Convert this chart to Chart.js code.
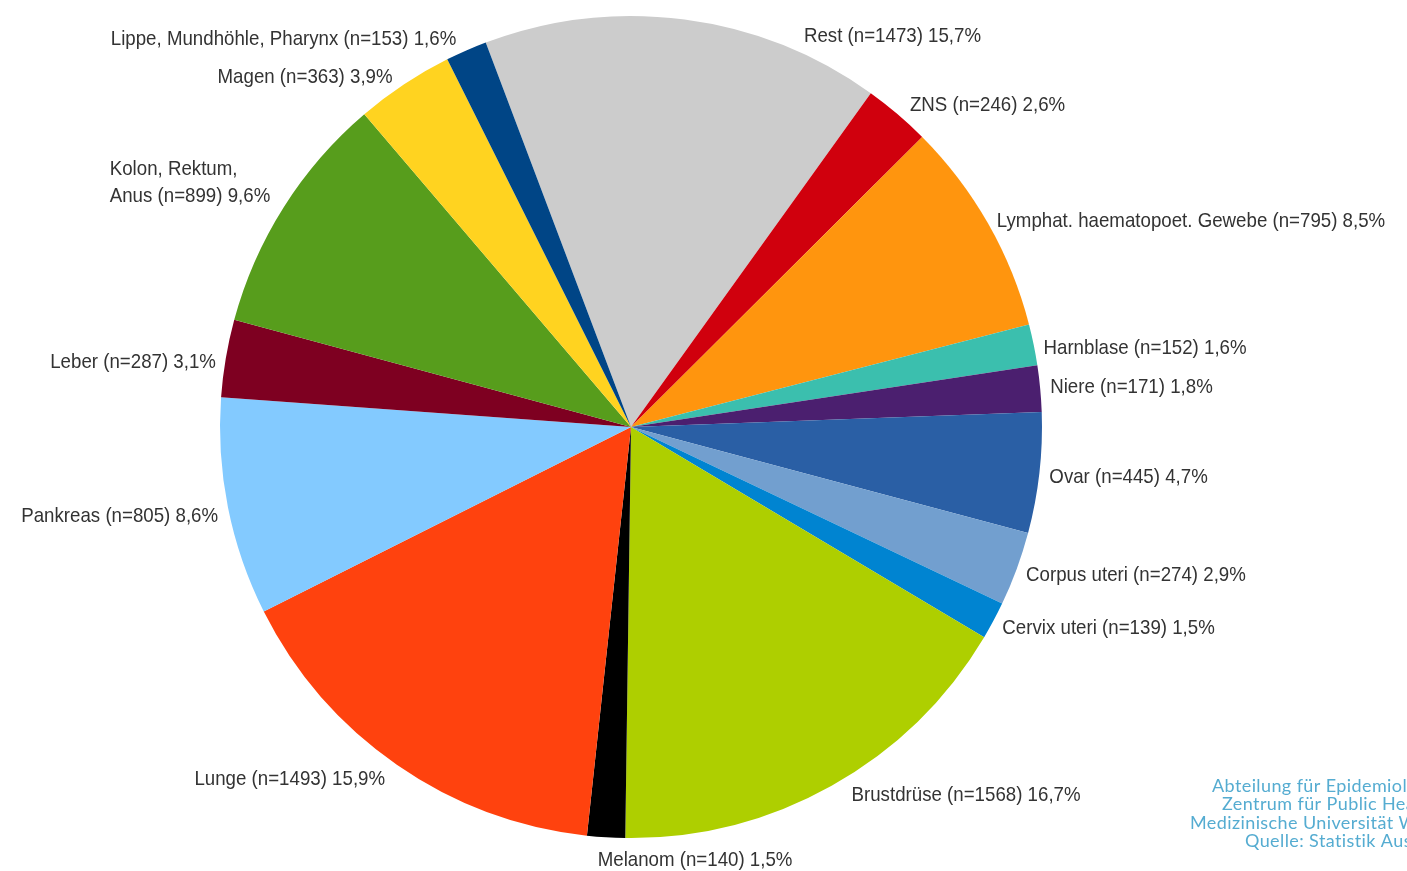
<!DOCTYPE html>
<html>
<head>
<meta charset="utf-8">
<script src="https://cdn.jsdelivr.net/npm/chart.js@4"></script>
<style>
  html, body { margin: 0; padding: 0; background: #fff; }
  .chart-box { position: relative; width: 1407px; height: 871px; }
</style>
</head>
<body>
<div class="chart-box">
  <canvas id="pie"></canvas>
</div>
<script>
// Neuerkrankungen nach Lokalisation, clockwise starting with "Rest"
const sites = [
  'Rest', 'ZNS', 'Lymphat. haematopoet. Gewebe', 'Harnblase', 'Niere', 'Ovar',
  'Corpus uteri', 'Cervix uteri', 'Brustdrüse', 'Melanom', 'Lunge', 'Pankreas',
  'Leber', 'Kolon, Rektum,\nAnus', 'Magen', 'Lippe, Mundhöhle, Pharynx'
];
const cases = [1473, 246, 795, 152, 171, 445, 274, 139, 1568, 140, 1493, 805, 287, 899, 363, 153];

const sliceColors = [
  '#cccccc', '#d0000d', '#ff950e', '#3bbfae', '#4b1f6f', '#2a5fa5',
  '#729fcf', '#0084d1', '#aecf00', '#000000', '#ff420e', '#83caff',
  '#7e0021', '#579d1c', '#ffd320', '#004586'
];

// a few labels were moved by hand in the original
const labelNudge = {
  'Rest': [118, 24],
  'ZNS': [6, -4],
  'Harnblase': [0, 2],
  'Niere': [0, -3],
  'Brustdrüse': [15, -2],
  'Melanom': [187, 10],
  'Lunge': [-6, 3],
  'Pankreas': [0, 4],
  'Leber': [0, 3],
  'Kolon, Rektum,\nAnus': [-5, -22],
  'Magen': [-6, -2],
  'Lippe, Mundhöhle, Pharynx': [-6, -5]
};

// source note, cut off at the right edge like the original
const sourceLines = [
  'Abteilung für Epidemiologie',
  'Zentrum für Public Health',
  'Medizinische Universität Wien',
  'Quelle: Statistik Austria'
];
const sourceStarts = [1212, 1222, 1190, 1245];

const total = cases.reduce((a, b) => a + b, 0);

function pctText(n) {
  return (n / total * 100).toFixed(1).replace('.', ',') + '%';
}

const NARROW = 0.89; // squeeze to look like a narrow sans

const outsideLabels = {
  id: 'outsideLabels',
  afterDatasetsDraw(chart) {
    const ctx = chart.ctx;
    const meta = chart.getDatasetMeta(0);
    ctx.save();
    ctx.font = '21px "Liberation Sans", Arial, sans-serif';
    ctx.fillStyle = '#333333';
    ctx.textBaseline = 'middle';
    ctx.textAlign = 'left';
    const lineH = 27;

    meta.data.forEach((arc, i) => {
      const mid = (arc.startAngle + arc.endAngle) / 2;
      const r = arc.outerRadius + 10;
      const x = arc.x + Math.cos(mid) * r;
      let y = arc.y + Math.sin(mid) * r + 3;

      const lines = sites[i].split('\n');
      lines[lines.length - 1] += ` (n=${cases[i]}) ${pctText(cases[i])}`;
      const blockW = Math.max(...lines.map(l => ctx.measureText(l).width)) * NARROW;

      let left = Math.cos(mid) >= 0 ? x : x - blockW;
      const nudge = labelNudge[sites[i]];
      if (nudge) {
        left += nudge[0];
        y += nudge[1];
      }

      const top = y - (lines.length - 1) * lineH / 2;
      lines.forEach((l, k) => {
        ctx.save();
        ctx.translate(left, top + k * lineH);
        ctx.scale(NARROW, 1);
        ctx.fillText(l, 0, 0);
        ctx.restore();
      });
    });

    ctx.font = '18px Lato, "Open Sans", sans-serif';
    ctx.letterSpacing = '0.4px';
    ctx.fillStyle = '#55acd1';
    ctx.textBaseline = 'alphabetic';
    sourceLines.forEach((l, k) => ctx.fillText(l, sourceStarts[k], 792 + k * 18.3));
    ctx.restore();
  }
};

new Chart(document.getElementById('pie'), {
  type: 'pie',
  data: {
    labels: sites,
    datasets: [{
      data: cases,
      backgroundColor: sliceColors,
      borderWidth: 0
    }]
  },
  options: {
    responsive: true,
    maintainAspectRatio: false,
    animation: false,
    rotation: -20.7,
    layout: {
      padding: { left: 220, right: 365, top: 16, bottom: 33 }
    },
    plugins: {
      legend: { display: false },
      tooltip: { enabled: false }
    }
  },
  plugins: [outsideLabels]
});
</script>
</body>
</html>
